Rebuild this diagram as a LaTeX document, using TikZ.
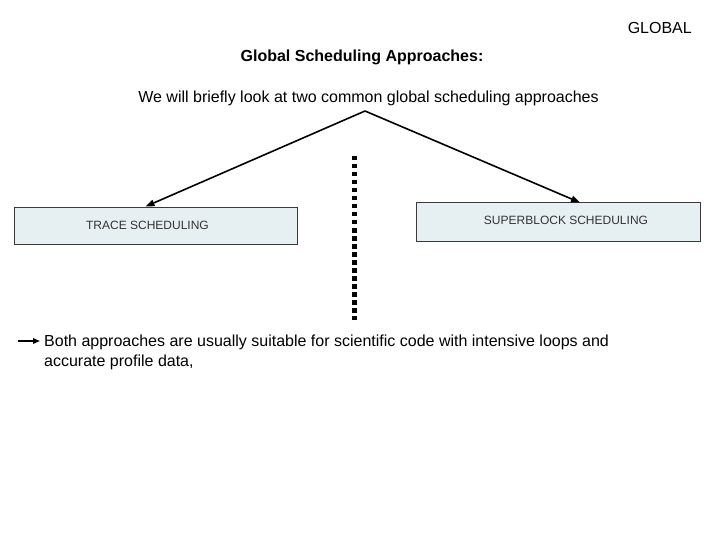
\documentclass[tikz,border=0pt]{standalone}
\usepackage{fontspec}
\setmainfont{Liberation Sans}
\usetikzlibrary{arrows.meta,positioning,calc}
\definecolor{ink}{HTML}{000000}
\definecolor{boxfill}{HTML}{E6F0F2}
\definecolor{boxline}{HTML}{3A3A3A}
\definecolor{boxtext}{HTML}{333333}

\begin{document}
\begin{tikzpicture}[x=1pt,y=-1pt,
  every node/.style={inner sep=0pt},
  txt/.style={font=\fontsize{16}{20}\selectfont,text=ink},
  approach/.style={draw=boxline,line width=0.9pt,fill=boxfill,minimum height=37pt,
    font=\fontsize{12}{14}\selectfont,text=boxtext},
  link/.style={draw=ink,line width=1.6pt,-{Triangle[length=9pt,width=6.5pt]}}]
  \useasboundingbox (0,0) rectangle (720,540);
  % headings
  \node[txt,anchor=base east] (corner) at (692,34) {GLOBAL};
  \node[txt,font=\fontsize{16}{20}\selectfont\bfseries,anchor=base] (title) at (362,62) {Global Scheduling Approaches:};
  \node[txt,anchor=base] (intro) at (368.5,103) {We will briefly look at two common global scheduling approaches};
  \coordinate (apex) at (365,111);
  % the two approaches
  \node[approach,minimum width=283pt,minimum height=37pt] (trace) at (155.5,225.5) {\hspace*{-16pt}TRACE SCHEDULING};
  \node[approach,minimum width=284pt,minimum height=39pt] (superblock) at (558,221.5) {\hspace*{16pt}\raisebox{3pt}{SUPERBLOCK SCHEDULING}};
  \draw[link] (apex) -- ([xshift=-10pt]trace.north);
  \draw[link] (apex) -- ([xshift=22pt,yshift=-1pt]superblock.north);
  % separator
  \coordinate (septop) at (354.5,156);
  \coordinate (sepbot) at (354.5,320);
  \draw[ink,line width=5pt,dash pattern=on 4.5pt off 3.5pt] (septop) -- (sepbot);
  % note
  \node[txt,anchor=base west,align=left] (note) at (44,366) {Both approaches are usually suitable for scientific code with intensive loops and\\accurate profile data,};
  \coordinate (notetail) at (18,341);
  \draw[draw=ink,line width=1.6pt,-{Triangle[length=7pt,width=5.5pt]}] (notetail) -- ([xshift=-4pt]notetail -| note.west);
\end{tikzpicture}
\end{document}
